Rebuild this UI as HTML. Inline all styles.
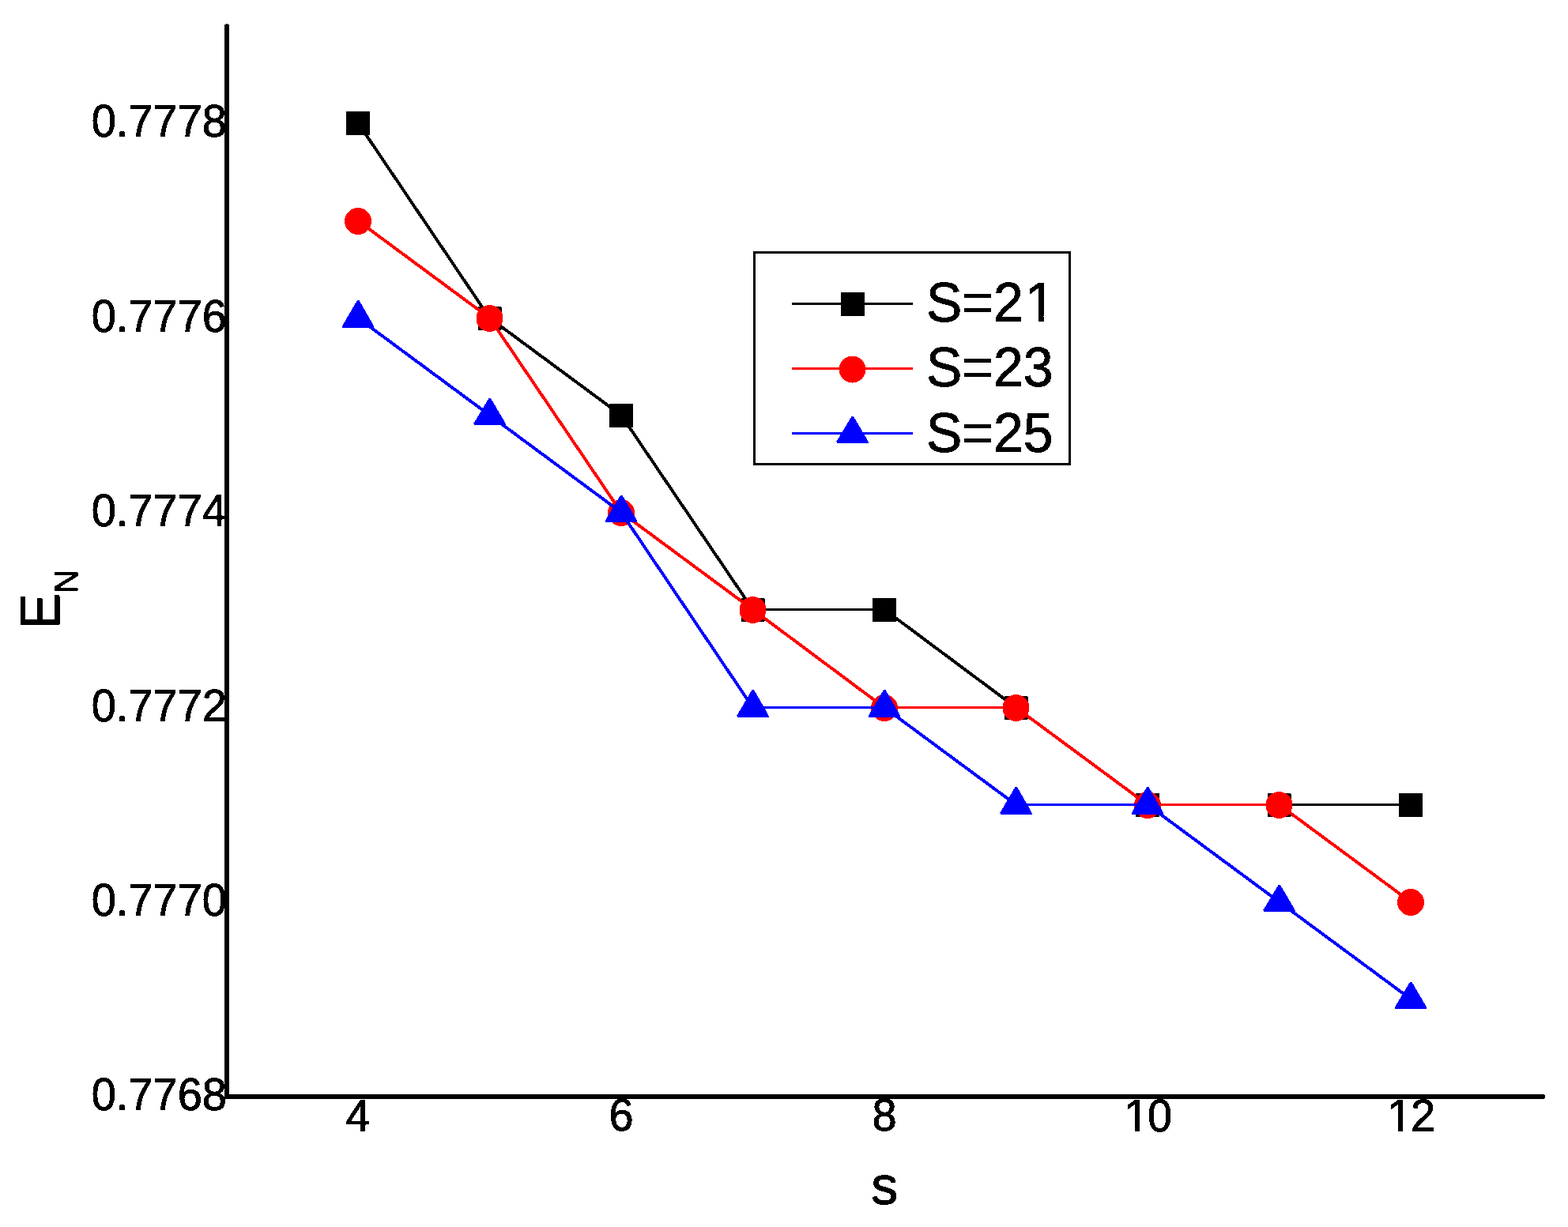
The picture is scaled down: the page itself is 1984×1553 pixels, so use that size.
<!DOCTYPE html>
<html lang="en">
<head>
<meta charset="utf-8">
<title>E_N versus s</title>
<style>
html,body{margin:0;padding:0;background:#fff;}
body{width:1984px;height:1553px;overflow:hidden;}
svg{display:block;}
text{font-family:"Liberation Sans",sans-serif;fill:#000;stroke:#000;stroke-width:0.9px;stroke-linejoin:miter;}
.tick{font-size:56px;}
.title{font-size:68px;}
.sub{font-size:41.5px;}
.leg{font-size:68px;}
</style>
</head>
<body>
<svg width="1984" height="1553" viewBox="0 0 1984 1553">
<rect x="0" y="0" width="1984" height="1553" fill="#fff"/>
<defs>
<filter id="hard" x="-5%" y="-5%" width="110%" height="110%" color-interpolation-filters="sRGB"><feComponentTransfer><feFuncA type="discrete" tableValues="0 1"/></feComponentTransfer></filter>
<clipPath id="foot-tick"><path clip-rule="evenodd" d="M-400,-200H400V100H-400Z M4.49,-5.68H15.35V3H4.49Z M21.2,-5.68H31.63V3H21.2Z"/></clipPath>
<clipPath id="foot-leg"><path clip-rule="evenodd" d="M-400,-200H400V100H-400Z M128.66,-6.58H141.63V3H128.66Z M148.54,-6.58H160.97V3H148.54Z"/></clipPath>
</defs>
<g shape-rendering="crispEdges">
<g fill="#000" stroke="none">
<g stroke="#000" fill="none">
<line x1="453" y1="155.5" x2="619.5" y2="402.5" stroke-width="3.93"/>
<line x1="619.5" y1="402.5" x2="786" y2="525.5" stroke-width="3.96"/>
<line x1="786" y1="525.5" x2="952.5" y2="771.5" stroke-width="3.93"/>
<line x1="952.5" y1="771.5" x2="1119" y2="771.5" stroke-width="3"/>
<line x1="1119" y1="771.5" x2="1285.5" y2="895.5" stroke-width="3.96"/>
<line x1="1285.5" y1="895.5" x2="1452" y2="1018.5" stroke-width="3.96"/>
<line x1="1452" y1="1018.5" x2="1618.5" y2="1018.5" stroke-width="3"/>
<line x1="1618.5" y1="1018.5" x2="1785" y2="1018.5" stroke-width="3"/>
</g>
<rect x="438" y="141" width="30" height="30" rx="1"/>
<rect x="604.5" y="388" width="30" height="30" rx="1"/>
<rect x="771" y="511" width="30" height="30" rx="1"/>
<rect x="937.5" y="757" width="30" height="30" rx="1"/>
<rect x="1104" y="757" width="30" height="30" rx="1"/>
<rect x="1270.5" y="881" width="30" height="30" rx="1"/>
<rect x="1437" y="1004" width="30" height="30" rx="1"/>
<rect x="1603.5" y="1004" width="30" height="30" rx="1"/>
<rect x="1770" y="1004" width="30" height="30" rx="1"/>
</g>
<g fill="#f00" stroke="none">
<g stroke="#f00" fill="none">
<line x1="453" y1="279.5" x2="619.5" y2="402.5" stroke-width="3.96"/>
<line x1="619.5" y1="402.5" x2="786" y2="648.5" stroke-width="3.93"/>
<line x1="786" y1="648.5" x2="952.5" y2="771.5" stroke-width="3.96"/>
<line x1="952.5" y1="771.5" x2="1119" y2="895.5" stroke-width="3.96"/>
<line x1="1119" y1="895.5" x2="1285.5" y2="895.5" stroke-width="3"/>
<line x1="1285.5" y1="895.5" x2="1452" y2="1018.5" stroke-width="3.96"/>
<line x1="1452" y1="1018.5" x2="1618.5" y2="1018.5" stroke-width="3"/>
<line x1="1618.5" y1="1018.5" x2="1785" y2="1141.5" stroke-width="3.96"/>
</g>
<circle cx="453" cy="280" r="17"/>
<circle cx="619.5" cy="403" r="17"/>
<circle cx="786" cy="649" r="17"/>
<circle cx="952.5" cy="772" r="17"/>
<circle cx="1119" cy="896" r="17"/>
<circle cx="1285.5" cy="896" r="17"/>
<circle cx="1452" cy="1019" r="17"/>
<circle cx="1618.5" cy="1019" r="17"/>
<circle cx="1785" cy="1142" r="17"/>
</g>
<g fill="#00f" stroke="none">
<g stroke="#00f" fill="none">
<line x1="453" y1="402.5" x2="619.5" y2="525.5" stroke-width="3.96"/>
<line x1="619.5" y1="525.5" x2="786" y2="648.5" stroke-width="3.96"/>
<line x1="786" y1="648.5" x2="952.5" y2="895.5" stroke-width="3.93"/>
<line x1="952.5" y1="895.5" x2="1119" y2="895.5" stroke-width="3"/>
<line x1="1119" y1="895.5" x2="1285.5" y2="1018.5" stroke-width="3.96"/>
<line x1="1285.5" y1="1018.5" x2="1452" y2="1018.5" stroke-width="3"/>
<line x1="1452" y1="1018.5" x2="1618.5" y2="1141.5" stroke-width="3.96"/>
<line x1="1618.5" y1="1141.5" x2="1785" y2="1264.5" stroke-width="3.96"/>
</g>
<polygon points="452,380 454.5,380 473,412.5 473,415 433,415 433,412.5"/>
<polygon points="618.5,504 621,504 639.5,535.5 639.5,538 599.5,538 599.5,535.5"/>
<polygon points="785,627 787.5,627 806,658.5 806,661 766,661 766,658.5"/>
<polygon points="951.5,873 954,873 972.5,905.5 972.5,908 932.5,908 932.5,905.5"/>
<polygon points="1118,873 1120.5,873 1139,905.5 1139,908 1099,908 1099,905.5"/>
<polygon points="1284.5,996 1287,996 1305.5,1028.5 1305.5,1031 1265.5,1031 1265.5,1028.5"/>
<polygon points="1451,996 1453.5,996 1472,1028.5 1472,1031 1432,1031 1432,1028.5"/>
<polygon points="1617.5,1120 1620,1120 1638.5,1151.5 1638.5,1154 1598.5,1154 1598.5,1151.5"/>
<polygon points="1784,1243 1786.5,1243 1805,1274.5 1805,1277 1765,1277 1765,1274.5"/>
</g>
</g>
<g fill="#000" shape-rendering="crispEdges">
<rect x="284" y="31" width="6" height="1360"/>
<rect x="286" y="30" width="2" height="2"/>
<rect x="284" y="1385" width="1670" height="6"/>
<rect x="1954" y="1386" width="1" height="4"/>
</g>
<g filter="url(#hard)">
<text class="tick" transform="translate(287,1405.4) scale(1,1.013)" text-anchor="end">0.7768</text>
<text class="tick" transform="translate(287,1159.4) scale(1,1.013)" text-anchor="end">0.7770</text>
<text class="tick" transform="translate(287,913.4) scale(1,1.013)" text-anchor="end">0.7772</text>
<text class="tick" transform="translate(287,666.4) scale(1,1.013)" text-anchor="end">0.7774</text>
<text class="tick" transform="translate(287,420.4) scale(1,1.013)" text-anchor="end">0.7776</text>
<text class="tick" transform="translate(287,173.4) scale(1,1.013)" text-anchor="end">0.7778</text>
</g>
<g filter="url(#hard)">
<text class="tick" transform="translate(453,1431.5) scale(1,1.013)" text-anchor="middle">4</text>
<text class="tick" transform="translate(786,1431.5) scale(1,1.013)" text-anchor="middle">6</text>
<text class="tick" transform="translate(1119,1431.5) scale(1,1.013)" text-anchor="middle">8</text>
<text class="tick" transform="translate(1420.86,1432) scale(1,1.013)" clip-path="url(#foot-tick)" dx="1.72 -1.72">10</text>
<text class="tick" transform="translate(1753.86,1432) scale(1,1.013)" clip-path="url(#foot-tick)" dx="1.72 -1.72">12</text>
</g>
<g filter="url(#hard)">
<text class="title" transform="translate(1119.3,1524.2)" text-anchor="middle">s</text>
<text class="title" transform="translate(74.6,796.2) rotate(-90) scale(1,1.025)">E<tspan class="sub" dy="22.6">N</tspan></text>
</g>
<rect x="954.5" y="319.5" width="399" height="268" fill="#fff" stroke="#000" stroke-width="3" shape-rendering="crispEdges"/>
<g shape-rendering="crispEdges">
<line x1="1002" y1="384.5" x2="1155" y2="384.5" stroke="#000" stroke-width="3"/>
<g fill="#000">
<rect x="1064" y="370" width="30" height="30" rx="1"/>
</g>
<line x1="1002" y1="466.5" x2="1155" y2="466.5" stroke="#f00" stroke-width="3"/>
<g fill="#f00">
<circle cx="1078.5" cy="467.5" r="17"/>
</g>
<line x1="1002" y1="548.5" x2="1155" y2="548.5" stroke="#00f" stroke-width="3"/>
<g fill="#00f">
<polygon points="1077.5,527 1080,527 1098.5,558.5 1098.5,561 1058.5,561 1058.5,558.5"/>
</g>
</g>
<g filter="url(#hard)">
<text class="leg" transform="translate(1172,406.8) scale(1,1.023)" clip-path="url(#foot-leg)" dx="0 0 0 2.09">S=21</text>
<text class="leg" transform="translate(1172,488.8) scale(1,1.023)">S=23</text>
<text class="leg" transform="translate(1172,571.8) scale(1,1.023)">S=25</text>
</g>
</svg>
</body>
</html>
